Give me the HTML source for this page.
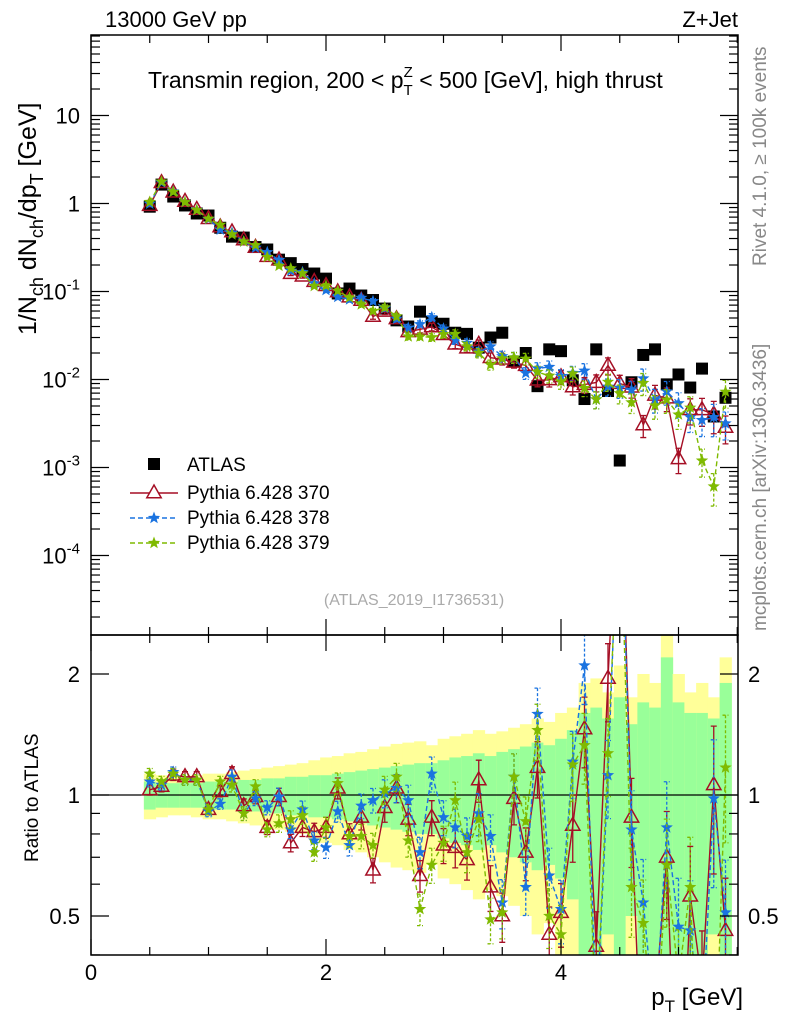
<!DOCTYPE html>
<html><head><meta charset="utf-8">
<style>
html,body{margin:0;padding:0;background:#fff;overflow:hidden;width:786px;height:1024px;}
svg{display:block;font-family:"Liberation Sans",Arial,sans-serif;}
</style></head>
<body>
<svg id="chart" width="786" height="1024" viewBox="0 0 786 1024" xmlns="http://www.w3.org/2000/svg">
<defs>
<clipPath id="clipMain"><rect x="91" y="35" width="647" height="600"/></clipPath>
<clipPath id="clipRatio"><rect x="91" y="635" width="647" height="320"/></clipPath>
</defs>
<g id="bands" clip-path="url(#clipRatio)"></g>
<g id="mainMarks" clip-path="url(#clipMain)"></g>
<g id="ratioMarks" clip-path="url(#clipRatio)"></g>
<g id="axes"></g>
<text x="105" y="27" font-size="22">13000 GeV pp</text>
<text x="738" y="27" font-size="22" text-anchor="end">Z+Jet</text>
<text x="148" y="88" font-size="23">Transmin region, 200 &lt; p<tspan font-size="15" dy="7">T</tspan><tspan font-size="15" dx="-9" dy="-18">Z</tspan><tspan dy="11"> &lt; 500 [GeV], high thrust</tspan></text>
<text transform="translate(36,335) rotate(-90)" font-size="25">1/N<tspan font-size="18" dy="7">ch</tspan><tspan dy="-7"> dN</tspan><tspan font-size="18" dy="7">ch</tspan><tspan dy="-7">/dp</tspan><tspan font-size="18" dy="7">T</tspan><tspan dy="-7"> [GeV]</tspan></text>
<text transform="translate(38,862) rotate(-90)" font-size="19">Ratio to ATLAS</text>
<text x="743" y="1005" font-size="24" text-anchor="end">p<tspan font-size="17" dy="7">T</tspan><tspan dy="-7"> [GeV]</tspan></text>
<text transform="translate(766,266) rotate(-90)" font-size="19" fill="#888">Rivet 4.1.0, ≥ 100k events</text>
<text transform="translate(766,631) rotate(-90)" font-size="19" fill="#888">mcplots.cern.ch [arXiv:1306.3436]</text>
<text x="414" y="605" font-size="16" fill="#aaa" text-anchor="middle">(ATLAS_2019_I1736531)</text>
<g id="legend"></g>
</svg>
<script>
const xValues=[0.5,0.6,0.7,0.8,0.9,1.0,1.1,1.2,1.3,1.4,1.5,1.6,1.7,1.8,1.9,2.0,2.1,2.2,2.3,2.4,2.5,2.6,2.7,2.8,2.9,3.0,3.1,3.2,3.3,3.4,3.5,3.6,3.7,3.8,3.9,4.0,4.1,4.2,4.3,4.4,4.5,4.6,4.7,4.8,4.9,5.0,5.1,5.2,5.3,5.4];
const atlasValues=[0.92,1.64,1.2,0.95,0.77,0.73,0.53,0.42,0.41,0.32,0.30,0.23,0.21,0.18,0.16,0.14,0.095,0.108,0.09,0.08,0.064,0.047,0.04,0.059,0.045,0.043,0.034,0.033,0.023,0.03,0.034,0.016,0.02,0.0084,0.022,0.021,0.0098,0.006,0.022,0.0074,0.0012,0.0093,0.019,0.022,0.0088,0.0114,0.0081,0.0133,0.0038,0.0062];
const ratio370=[1.03,1.05,1.12,1.11,1.11,0.92,1.02,1.13,0.94,0.99,0.83,0.99,0.76,0.83,0.81,0.83,1.04,0.80,0.88,0.65,0.93,1.04,0.87,0.63,0.88,0.75,0.74,0.69,1.09,0.59,0.50,0.98,0.72,1.17,0.45,0.51,0.84,1.46,0.42,1.95,7.5,0.88,0.16,0.30,0.70,0.11,0.56,0.34,1.06,0.46];
const ratio378=[1.08,1.06,1.14,1.09,1.09,0.91,0.95,1.11,0.90,0.98,0.93,0.99,0.82,0.92,0.77,0.74,0.91,0.75,0.94,0.97,1.01,1.04,0.97,0.72,1.13,0.88,0.83,0.79,0.90,0.79,0.54,1.11,0.59,1.59,0.63,0.52,1.21,2.1,0.27,1.12,6.7,0.82,0.54,0.27,0.83,0.47,0.46,0.26,0.98,0.51];
const ratio379=[1.13,1.08,1.13,1.09,1.09,0.92,1.08,1.06,0.90,1.05,0.82,0.85,0.87,0.89,0.72,0.83,1.07,0.79,0.79,0.75,1.03,1.11,0.77,0.52,0.67,0.76,0.97,0.72,0.87,0.49,0.51,1.11,0.86,1.45,0.50,0.45,1.19,1.33,0.27,1.27,5.8,0.59,0.48,0.23,0.67,0.35,0.59,0.09,0.16,1.17];
const mcRelErr=[0.03,0.03,0.03,0.03,0.03,0.03,0.03,0.04,0.04,0.04,0.04,0.05,0.05,0.05,0.05,0.06,0.06,0.06,0.07,0.07,0.08,0.08,0.09,0.09,0.1,0.1,0.11,0.11,0.12,0.13,0.14,0.14,0.15,0.16,0.17,0.18,0.19,0.2,0.22,0.22,0.24,0.25,0.28,0.3,0.3,0.32,0.33,0.35,0.4,0.35];
const statErr=[0.08,0.07,0.07,0.07,0.07,0.08,0.08,0.08,0.09,0.09,0.1,0.1,0.11,0.11,0.12,0.12,0.13,0.14,0.15,0.16,0.17,0.18,0.19,0.2,0.2,0.22,0.24,0.25,0.27,0.25,0.28,0.3,0.32,0.35,0.33,0.38,0.45,0.6,0.65,0.55,0.75,0.5,0.7,0.65,1.2,0.7,0.6,0.6,0.55,0.9];
const totErr=[0.13,0.12,0.11,0.11,0.12,0.13,0.13,0.14,0.15,0.16,0.17,0.18,0.19,0.2,0.22,0.24,0.25,0.27,0.28,0.3,0.32,0.34,0.35,0.36,0.33,0.38,0.4,0.42,0.45,0.42,0.44,0.47,0.5,0.55,0.52,0.6,0.65,0.9,0.95,0.8,1.1,0.75,1.0,0.9,1.5,1.0,0.8,0.9,0.75,1.2];
const xTickLabels=["0","2","4"];
const mainTickLabels=["10","1","10^-1","10^-2","10^-3","10^-4"];
const ratioTickLabels=["0.5","1","2"];

const NS="http://www.w3.org/2000/svg";
const L=91,R=738,MT=35,MB=635,RB=955;
const xs=v=>L+117.5*v;
const ym=v=>203.5-88*Math.log10(v);
const yr=v=>795-121*Math.log2(v);
function mk(tag,attrs,parent){const e=document.createElementNS(NS,tag);for(const k in attrs)e.setAttribute(k,attrs[k]);parent.appendChild(e);return e;}

const bands=document.getElementById('bands');
xValues.forEach((x,i)=>{
  const x0=xs(x-0.05),w=117.5*0.1+0.5;
  const ty=mk('rect',{x:x0,y:yr(1+totErr[i]),width:w,height:yr(Math.max(1-totErr[i],0.3))-yr(1+totErr[i]),fill:'#ffff99'},bands);
  
  
  const g=mk('rect',{x:x0,y:yr(1+statErr[i]),width:w,height:yr(Math.max(1-statErr[i],0.3))-yr(1+statErr[i]),fill:'#99ff99'},bands);
  
  
});

function starPath(cx,cy,r){let d='';for(let k=0;k<10;k++){const a=-Math.PI/2+k*Math.PI/5;const rr=k%2?r*0.42:r;d+=(k?'L':'M')+(cx+rr*Math.cos(a)).toFixed(1)+','+(cy+rr*Math.sin(a)).toFixed(1);}return d+'Z';}
function triPath(cx,cy,s){return `M${cx},${cy-s}L${cx+s*0.9},${cy+s*0.6}L${cx-s*0.9},${cy+s*0.6}Z`;}

const series=[
 {name:'pythia-370',ratio:ratio370,color:'#a50f25',dash:'',marker:'tri'},
 {name:'pythia-378',ratio:ratio378,color:'#1a73e0',dash:'5,3',marker:'star'},
 {name:'pythia-379',ratio:ratio379,color:'#7fba00',dash:'5,3',marker:'star'}
];
const mainG=document.getElementById('mainMarks');
const ratioG=document.getElementById('ratioMarks');
const ref=mk('line',{x1:L,x2:R,y1:yr(1),y2:yr(1),stroke:'#000','stroke-width':1.3},ratioG);



function drawSeries(s,parent,yf,vals,isMain){
  const g=mk('g',{},parent);
  
  
  let d='';
  vals.forEach((v,i)=>{d+=(i?'L':'M')+xs(xValues[i]).toFixed(1)+','+yf(v).toFixed(1);});
  const ln=mk('path',{d:d,fill:'none',stroke:s.color,'stroke-width':1.4,'stroke-dasharray':s.dash},g);
  
  
  vals.forEach((v,i)=>{
    const cx=xs(xValues[i]),e=mcRelErr[i];
    const y1=yf(v*(1+e)),y2=yf(Math.max(v*(1-e),1e-9));
    const eb=mk('path',{d:`M${cx},${y1}L${cx},${y2}M${cx-3},${y1}L${cx+3},${y1}M${cx-3},${y2}L${cx+3},${y2}`,stroke:s.color,'stroke-width':1.3,'stroke-dasharray':s.dash?'3,2':'',fill:'none'},g);
    
    
    const cy=yf(v);
    let m;
    if(s.marker==='tri') m=mk('path',{d:triPath(cx,cy,8),fill:'none',stroke:s.color,'stroke-width':1.5},g);
    else m=mk('path',{d:starPath(cx,cy,6.5),fill:s.color},g);
    
    
  });
}
const atG=mk('g',{},mainG);


xValues.forEach((x,i)=>{
  const r=mk('rect',{x:xs(x)-6,y:ym(atlasValues[i])-6,width:12,height:12,fill:'#000'},atG);
  
  
});
series.forEach(s=>{
  drawSeries(s,mainG,ym,s.ratio.map((r,i)=>r*atlasValues[i]),true);
  drawSeries(s,ratioG,yr,s.ratio,false);
});

const ax=document.getElementById('axes');
function frame(y0,y1,nm){const f=mk('rect',{x:L,y:y0,width:R-L,height:y1-y0,fill:'none',stroke:'#000','stroke-width':1.5},ax);}
frame(MT,MB,'main-plot-frame');frame(MB,RB,'ratio-plot-frame');
for(let v=0;v<=5.5;v+=0.5){
  const big=Math.abs(v%2)<1e-6;const x=xs(v);
  mk('line',{x1:x,x2:x,y1:RB,y2:RB-(big?16:8),stroke:'#000','stroke-width':1.2},ax);
  mk('line',{x1:x,x2:x,y1:MB,y2:MB-(big?16:8),stroke:'#000','stroke-width':1.2},ax);
  mk('line',{x1:x,x2:x,y1:MT,y2:MT+(big?16:8),stroke:'#000','stroke-width':1.2},ax);
  mk('line',{x1:x,x2:x,y1:MB,y2:MB+(big?16:8),stroke:'#000','stroke-width':1.2},ax);
}
xTickLabels.forEach((t,i)=>{
  const tx=mk('text',{x:xs(+t),y:980,'font-size':22,'text-anchor':'middle'},ax);tx.textContent=t;
  
  
});
for(let e=-5;e<=1;e++){for(let m=1;m<10;m++){const v=m*Math.pow(10,e);const y=ym(v);if(y<MT||y>MB)continue;const len=m===1?18:9;
  mk('line',{x1:L,x2:L+len,y1:y,y2:y,stroke:'#000','stroke-width':1.2},ax);
  mk('line',{x1:R,x2:R-len,y1:y,y2:y,stroke:'#000','stroke-width':1.2},ax);}}
mainTickLabels.forEach((t,i)=>{
  const y=ym(Math.pow(10,1-i))+8;
  const tx=mk('text',{x:80,y:y,'font-size':22,'text-anchor':'end'},ax);
  if(t.indexOf('^')>=0){const p=t.split('^');tx.textContent=p[0];const sp=mk('tspan',{'font-size':15,dy:-10},tx);sp.textContent=p[1];}
  else tx.textContent=t;
  
  
});
[0.4,0.5,0.6,0.7,0.8,0.9,1,2].forEach(v=>{const y=yr(v);const big=(v===0.5||v===1||v===2);const len=big?18:9;
  mk('line',{x1:L,x2:L+len,y1:y,y2:y,stroke:'#000','stroke-width':1.2},ax);
  mk('line',{x1:R,x2:R-len,y1:y,y2:y,stroke:'#000','stroke-width':1.2},ax);});
ratioTickLabels.forEach(t=>{
  const y=yr(+t)+8;
  const a=mk('text',{x:80,y:y,'font-size':22,'text-anchor':'end'},ax);a.textContent=t;
  
  
  const b=mk('text',{x:748,y:y,'font-size':22},ax);b.textContent=t;
  
  
});

const lg=document.getElementById('legend');
const a0=mk('rect',{x:148,y:458,width:12,height:12,fill:'#000'},lg);


const at=mk('text',{x:187,y:471,'font-size':19},lg);at.textContent='ATLAS';


const legNames=['Pythia 6.428 370','Pythia 6.428 378','Pythia 6.428 379'];
series.forEach((s,i)=>{
  const y=493+25*i;
  const ln=mk('line',{x1:130,x2:178,y1:y,y2:y,stroke:s.color,'stroke-width':1.4,'stroke-dasharray':s.dash},lg);
  
  
  if(s.marker==='tri') mk('path',{d:triPath(154,y,8),fill:'#fff',stroke:s.color,'stroke-width':1.5},lg);
  else mk('path',{d:starPath(154,y,6.5),fill:s.color},lg);
  const t=mk('text',{x:187,y:y+6,'font-size':19},lg);t.textContent=legNames[i];
  
  
});
</script>
</body></html>
